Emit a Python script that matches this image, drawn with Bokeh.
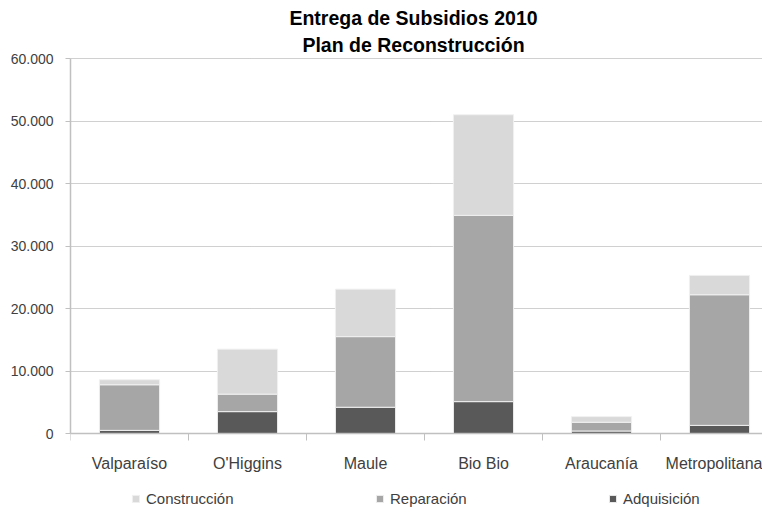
from bokeh.plotting import figure
from bokeh.models import (FixedTicker, Legend, LegendItem, Label, Range1d,
                          ColumnDataSource)
from bokeh.embed import file_html
from bokeh.resources import INLINE

regions = ["Valparaíso", "O'Higgins", "Maule", "Bio Bio", "Araucanía", "Metropolitana"]
adquisicion = [500, 3500, 4200, 5100, 400, 1300]
reparacion = [7300, 2800, 11300, 29800, 1400, 20900]
construccion = [800, 7200, 7600, 16100, 900, 3100]
series_names = ["Adquisición", "Reparación", "Construcción"]
series_colors = ["#595959", "#a6a6a6", "#d9d9d9"]
y_ticks = [0, 10000, 20000, 30000, 40000, 50000, 60000]
y_tick_labels = ["0", "10.000", "20.000", "30.000", "40.000", "50.000", "60.000"]
title_lines = ["Entrega de Subsidios 2010", "Plan de Reconstrucción"]

FONT = "Liberation Sans"
TEXT_COLOR = "#404040"
AXIS_COLOR = "#c0c0c0"

W, H = 762, 507
LEFT = 70
ZERO_PX, TOP_TICK_PX = 433, 58          # pixel rows of 0 and 60.000
CAT_PX = 118                            # width of one category in pixels
per_px = (y_ticks[-1] - y_ticks[0]) / (ZERO_PX - TOP_TICK_PX)
y_start = -(H - ZERO_PX) * per_px
y_end = y_ticks[-1] + TOP_TICK_PX * per_px
x_end = (W - LEFT) / CAT_PX

xpos = [i + 0.5 for i in range(len(regions))]
src = ColumnDataSource(dict(x=xpos, adq=adquisicion, rep=reparacion, con=construccion))

p = figure(width=W, height=H, x_range=Range1d(0, x_end),
           y_range=Range1d(y_start, y_end), output_backend="svg",
           toolbar_location=None, min_border_left=LEFT, min_border_right=0,
           min_border_top=0, min_border_bottom=0)
p.outline_line_color = None
p.background_fill_color = "white"
p.border_fill_color = "white"

renderers = p.vbar_stack(["adq", "rep", "con"], x="x", width=0.51, source=src,
                         color=series_colors, line_color="#f0f0f0", line_width=1)

# y axis
p.yaxis.ticker = FixedTicker(ticks=y_ticks)
p.yaxis.major_label_overrides = dict(zip(y_ticks, y_tick_labels))
p.yaxis.bounds = (0, y_ticks[-1])
p.yaxis.axis_line_color = AXIS_COLOR
p.yaxis.axis_line_width = 1.5
p.yaxis.major_tick_line_color = AXIS_COLOR
p.yaxis.major_tick_out = 5
p.yaxis.major_tick_in = 0
p.yaxis.minor_tick_line_color = None
p.yaxis.major_label_standoff = 12
p.yaxis.major_label_text_font = FONT
p.yaxis.major_label_text_font_size = "14px"
p.yaxis.major_label_text_color = TEXT_COLOR

# x axis (kept at value 0)
p.xaxis.fixed_location = 0
p.xaxis.ticker = FixedTicker(ticks=xpos, minor_ticks=list(range(len(regions) + 1)))
p.xaxis.major_label_overrides = dict(zip(xpos, regions))
p.xaxis.axis_line_color = AXIS_COLOR
p.xaxis.axis_line_width = 1.5
p.xaxis.major_tick_line_color = None
p.xaxis.major_tick_out = 0
p.xaxis.major_tick_in = 0
p.xaxis.minor_tick_line_color = AXIS_COLOR
p.xaxis.minor_tick_out = 7
p.xaxis.minor_tick_in = 0
p.xaxis.major_label_standoff = 14
p.xaxis.major_label_text_font = FONT
p.xaxis.major_label_text_font_size = "16px"
p.xaxis.major_label_text_color = TEXT_COLOR

p.xgrid.visible = False
p.ygrid.ticker = FixedTicker(ticks=y_ticks)
p.ygrid.grid_line_color = "#a0a0a0"
p.ygrid.grid_line_dash = "1 1"
p.ygrid.grid_line_width = 1

# title
for txt, yy in zip(title_lines, [H - 17, H - 44]):
    p.add_layout(Label(x=343, y=yy, x_units="screen", y_units="screen", text=txt,
                       text_align="center", text_baseline="alphabetic",
                       text_font=FONT, text_font_style="bold",
                       text_font_size="19.5px", text_color="black"))

# legend: one entry per block, placed as in the original
legend_order = [2, 1, 0]
legend_x = [61, 305, 538]
for idx, lx in zip(legend_order, legend_x):
    lg = Legend(items=[LegendItem(label=series_names[idx], renderers=[renderers[idx]])],
                orientation="horizontal", location=(lx, 0.5),
                glyph_width=9, glyph_height=9, label_standoff=6,
                label_height=17, border_line_alpha=0, background_fill_alpha=0,
                label_text_font=FONT, label_text_font_size="15px",
                label_text_color=TEXT_COLOR, padding=0, margin=0)
    p.add_layout(lg, "center")

open("out.html", "w").write(file_html(p, INLINE))
